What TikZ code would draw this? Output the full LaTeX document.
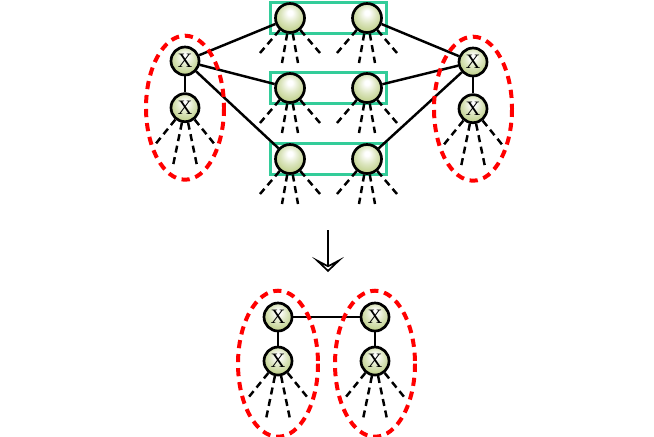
\documentclass[tikz,border=0pt]{standalone}
\usepackage{fontspec}
\newfontfamily\xfont{Liberation Serif}
\usepackage{tikz}
\usetikzlibrary{arrows.meta, positioning, fit, backgrounds}
\definecolor{nodegreen}{HTML}{BFD08A}
\definecolor{boxteal}{HTML}{33CC99}
\pgfdeclareradialshading{greenglow}{\pgfpoint{0bp}{10bp}}{%
  color(0bp)=(white); color(4bp)=(white);
  color(16bp)=(nodegreen!55!white); color(28bp)=(nodegreen);
  color(50bp)=(nodegreen)}

\begin{document}
\begin{tikzpicture}[
    x=0.03cm, y=-0.03cm,
    >=Stealth,
    var/.style={
        circle,
        draw=black,
        line width=2.3pt,
        shading=greenglow,
        minimum size=0.87cm,
        inner sep=0pt
    },
    xvar/.style={
        var,
        minimum size=0.84cm,
        font=\xfont\fontsize{17.5}{17.5}\selectfont
    },
    pairbox/.style={
        draw=boxteal,
        line width=2.4pt,
        inner xsep=0.12cm,
        inner ysep=0pt
    },
    link/.style={
        draw=black,
        line width=2.1pt
    },
    stub/.style={
        draw=black,
        line width=2.1pt,
        dash pattern=on 6pt off 4pt
    },
    cluster/.style={
        draw=red,
        line width=3.4pt,
        dash pattern=on 7pt off 5pt
    }
]
\useasboundingbox (0,0) rectangle (654,436);

% Pairs in boxes
\node[var] (a1) at (290, 18) {};
\node[var] (a2) at (367, 18) {};
\node[var] (b1) at (290, 88) {};
\node[var] (b2) at (367, 88) {};
\node[var] (c1) at (290, 159) {};
\node[var] (c2) at (367, 159) {};

\begin{scope}[on background layer]
\node[pairbox, fit=(a1)(a2)] (boxa) {};
\node[pairbox, fit=(b1)(b2)] (boxb) {};
\node[pairbox, fit=(c1)(c2)] (boxc) {};
\end{scope}

% Separator nodes
\node[xvar] (lx1) at (185, 61) {X};
\node[xvar, below=0.48cm of lx1] (lx2) {X};
\node[xvar] (rx1) at (473, 62) {X};
\node[xvar, below=0.48cm of rx1] (rx2) {X};

% Links to the pairs
\draw[link] (lx1) -- (lx2);
\draw[link] (rx1) -- (rx2);
\draw[link] (lx1) -- (a1);
\draw[link] (lx1) -- (b1);
\draw[link] (lx1) -- (c1);
\draw[link] (rx1) -- (a2);
\draw[link] (rx1) -- (b2);
\draw[link] (rx1) -- (c2);

% Reduced graph
\node[xvar] (bl1) at (278, 317) {X};
\node[xvar, below=0.4cm of bl1] (bl2) {X};
\node[xvar] (br1) at (375, 317) {X};
\node[xvar, below=0.4cm of br1] (br2) {X};

\draw[link] (bl1) -- (br1);
\draw[link] (bl1) -- (bl2);
\draw[link] (br1) -- (br2);

% Loose ends
\foreach \n in {a1, a2, b1, b2, c1, c2}
    \draw[stub] (\n) -- ++(-30, 35) (\n) -- ++(-8, 45)
                (\n) -- ++(8, 45) (\n) -- ++(30, 35);
\foreach \n in {lx2, rx2, bl2, br2}
    \draw[stub] (\n) -- ++(-30, 37) (\n) -- ++(-12, 58)
                (\n) -- ++(12, 58) (\n) -- ++(30, 37);

% Clusters
\draw[cluster] (lx2) ellipse [x radius=39, y radius=72];
\draw[cluster] (rx2) ellipse [x radius=39, y radius=72];
\draw[cluster] ([yshift=-0.08cm]bl2.center) ellipse [x radius=40, y radius=73];
\draw[cluster] ([yshift=-0.08cm]br2.center) ellipse [x radius=40, y radius=73];

% Arrow
\coordinate (top) at (328, 230);
\coordinate (bottom) at (328, 272);
\draw[line width=1.8pt, -{Stealth[open, length=0.45cm, width=0.95cm, inset=0.25cm]}] (top) -- (bottom);

\end{tikzpicture}
\end{document}
